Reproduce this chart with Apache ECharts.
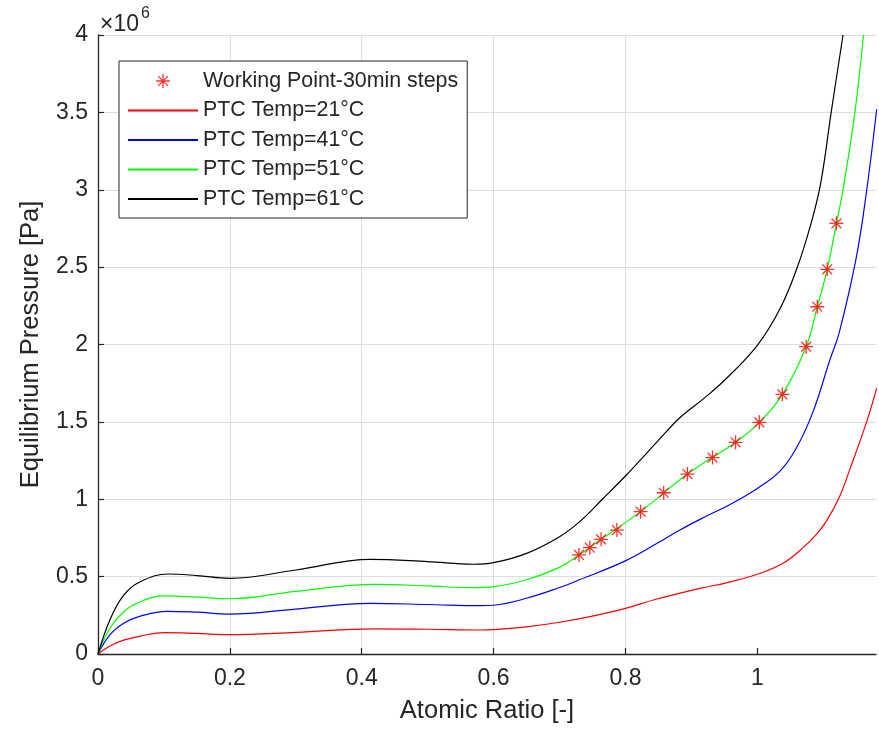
<!DOCTYPE html>
<html>
<head>
<meta charset="utf-8">
<script src="https://cdn.jsdelivr.net/npm/echarts@6/dist/echarts.min.js"></script>
<style>html,body{margin:0;padding:0;background:#fff}#chart{width:879px;height:734px}</style>
</head>
<body>
<div id="chart"></div>
<script>
// Values. Pressure in units of 1e6 Pa.
const xTicks = [0, 0.2, 0.4, 0.6, 0.8, 1];
const yTicks = [0, 0.5, 1, 1.5, 2, 2.5, 3, 3.5, 4];

const curve21 = [[0,0],[0.018,0.052],[0.039,0.09],[0.064,0.116],[0.1,0.138],[0.15,0.133],[0.2,0.125],[0.3,0.14],[0.42,0.163],[0.5,0.16],[0.58,0.155],[0.6,0.157],[0.65,0.175],[0.7,0.205],[0.75,0.245],[0.8,0.295],[0.845,0.352],[0.913,0.424],[0.953,0.46],[1.0,0.515],[1.039,0.586],[1.069,0.686],[1.09,0.775],[1.105,0.86],[1.125,1.02],[1.14,1.19],[1.165,1.49],[1.181,1.717]];

const curve41 = [[0,0],[0.018,0.123],[0.039,0.198],[0.064,0.245],[0.105,0.276],[0.15,0.27],[0.2,0.258],[0.3,0.29],[0.413,0.327],[0.5,0.32],[0.58,0.312],[0.6,0.315],[0.65,0.36],[0.7,0.43],[0.731,0.481],[0.799,0.6],[0.85,0.72],[0.882,0.8],[0.92,0.885],[0.958,0.965],[1.0,1.07],[1.034,1.18],[1.059,1.33],[1.084,1.56],[1.11,1.9],[1.124,2.074],[1.15,2.56],[1.166,3.0],[1.181,3.52]];

const curve51 = [[0,0],[0.018,0.166],[0.039,0.273],[0.064,0.338],[0.1,0.375],[0.15,0.368],[0.2,0.357],[0.3,0.405],[0.42,0.45],[0.5,0.44],[0.57,0.429],[0.6,0.435],[0.65,0.48],[0.7,0.56],[0.7295,0.64],[0.763,0.741],[0.823,0.92],[0.894,1.163],[0.967,1.368],[1.003,1.497],[1.038,1.678],[1.074,1.986],[1.091,2.244],[1.106,2.486],[1.12,2.783],[1.13,3.0],[1.148,3.5],[1.161,4.0]];

const curve61 = [[0,0],[0.018,0.22],[0.039,0.38],[0.064,0.467],[0.107,0.517],[0.15,0.507],[0.2,0.489],[0.3,0.543],[0.413,0.612],[0.5,0.597],[0.569,0.58],[0.6,0.59],[0.65,0.65],[0.7,0.758],[0.731,0.857],[0.765,1.0],[0.8,1.15],[0.85,1.38],[0.882,1.525],[0.92,1.655],[0.951,1.772],[1.0,1.995],[1.034,2.228],[1.059,2.48],[1.08,2.76],[1.096,3.04],[1.112,3.5],[1.13,4.0]];

const workX = [0.7295,0.746,0.763,0.787,0.823,0.858,0.894,0.932,0.967,1.003,1.038,1.074,1.091,1.106,1.12];
const workY = [0.640,0.687,0.741,0.801,0.920,1.042,1.163,1.269,1.368,1.497,1.678,1.986,2.244,2.486,2.783];

const seriesNames = ['Working Point-30min steps','PTC Temp=21°C','PTC Temp=41°C','PTC Temp=51°C','PTC Temp=61°C'];

const FONT = "'Liberation Sans', Arial, Helvetica, sans-serif";
const AX = '#262626';
const STAR = 'path://M10,0L10,20M0,10L20,10M3,3L17,17M3,17L17,3';

const chart = echarts.init(document.getElementById('chart'), null, {renderer: 'canvas'});

function lineSeries(name, data, color) {
  return {
    name: name, type: 'line', data: data, symbol: 'none', showSymbol: false,
    smooth: 0.4, clip: true,
    lineStyle: {color: color, width: 1.2}, itemStyle: {color: color},
    emphasis: {disabled: true}, z: 2
  };
}

const option = {
  animation: false,
  backgroundColor: '#fff',
  textStyle: {fontFamily: FONT},
  grid: {left: 98, right: 3, top: 35, bottom: 80, containLabel: false},
  xAxis: {
    type: 'value', min: 0, max: 1.18, interval: 0.2,
    name: 'Atomic Ratio [-]', nameLocation: 'middle', nameGap: 44,
    nameTextStyle: {fontSize: 25.5, color: AX, fontFamily: FONT},
    axisLine: {show: true, onZero: false, lineStyle: {color: AX, width: 1.3}},
    axisTick: {show: true, inside: true, length: 6, customValues: xTicks, lineStyle: {color: AX, width: 1.2}},
    axisLabel: {customValues: xTicks, fontSize: 23, color: AX, margin: 13, fontFamily: FONT},
    splitLine: {show: true, showMinLine: false, showMaxLine: false, lineStyle: {color: '#dedede', width: 1}}
  },
  yAxis: {
    type: 'value', min: 0, max: 4, interval: 0.5,
    name: 'Equilibrium Pressure [Pa]', nameLocation: 'middle', nameGap: 54,
    nameTextStyle: {fontSize: 25.5, color: AX, fontFamily: FONT},
    axisLine: {show: true, onZero: false, lineStyle: {color: AX, width: 1.3}},
    axisTick: {show: true, inside: true, length: 6, customValues: yTicks, lineStyle: {color: AX, width: 1.2}},
    axisLabel: {customValues: yTicks, fontSize: 23, color: AX, margin: 10, fontFamily: FONT},
    splitLine: {show: true, showMinLine: false, lineStyle: {color: '#dedede', width: 1}}
  },
  legend: {
    orient: 'vertical', left: 119, top: 61,
    padding: [8, 9, 7, 8],
    itemWidth: 70, itemHeight: 14, itemGap: 5.5,
    backgroundColor: '#fff', borderColor: AX, borderWidth: 1, borderRadius: 0,
    textStyle: {fontSize: 21.4, color: AX, lineHeight: 24, fontFamily: FONT},
    data: [
      {name: seriesNames[0], icon: STAR, itemStyle: {color: 'rgba(0,0,0,0)', borderColor: '#ff0000', borderWidth: 1.3}},
      {name: seriesNames[1], itemStyle: {opacity: 0}},
      {name: seriesNames[2], itemStyle: {opacity: 0}},
      {name: seriesNames[3], itemStyle: {opacity: 0}},
      {name: seriesNames[4], itemStyle: {opacity: 0}}
    ],
    selectedMode: false
  },
  graphic: [
    {type: 'text', left: 100, top: 13, style: {text: '×10', fontSize: 23, fill: AX, fontFamily: FONT}},
    {type: 'text', left: 141, top: 6, style: {text: '6', fontSize: 16, fill: AX, fontFamily: FONT}}
  ],
  series: [
    {
      name: seriesNames[0], type: 'scatter',
      data: workX.map((x, i) => [x, workY[i]]),
      symbol: STAR, symbolSize: 14,
      itemStyle: {color: 'rgba(0,0,0,0)', borderColor: '#ff0000', borderWidth: 1.3},
      emphasis: {disabled: true}, z: 5
    },
    lineSeries(seriesNames[1], curve21, '#ff0000'),
    lineSeries(seriesNames[2], curve41, '#0000ff'),
    lineSeries(seriesNames[3], curve51, '#00ff00'),
    lineSeries(seriesNames[4], curve61, '#000000')
  ]
};
chart.setOption(option);
</script>
</body>
</html>
